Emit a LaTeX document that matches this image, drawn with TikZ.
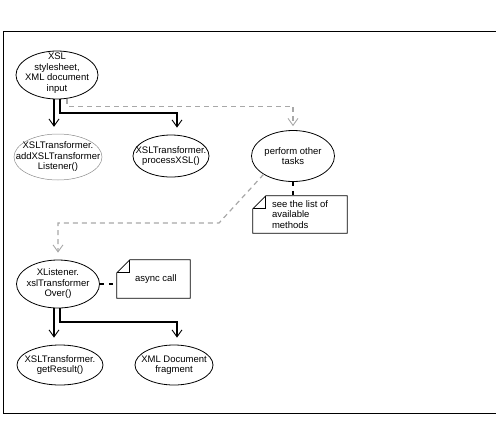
\documentclass[tikz,border=0pt]{standalone}
\usepackage{fontspec}
\setmainfont{Liberation Sans}
\usepackage{tikz}
\usetikzlibrary{shapes.geometric, arrows.meta, positioning, calc}
\usepackage{xcolor}
\definecolor{muted}{HTML}{A8A8A8}
\definecolor{rim}{HTML}{8C8C8C}
\newcommand{\dgmfont}{\fontsize{9.5}{10.5}\selectfont}
\tikzset{
  act/.style={ellipse, draw, line width=0.8pt, inner sep=0pt},
  actL/.style={act, draw=rim, line width=0.5pt},
  lbl/.style={align=center, font=\dgmfont, inner sep=0pt},
  flow/.style={line width=2pt, shorten >=7pt,
               -{Straight Barb[length=7pt, width=10pt, line width'=0.9pt]}},
  callarrow/.style={line width=1.2pt, draw=muted, dash pattern=on 5pt off 4pt,
               shorten >=4pt,
               -{Straight Barb[length=7pt, width=10pt, line width'=0.9pt]}},
  link/.style={line width=1.2pt, dash pattern=on 4pt off 5pt},
  notebox/.style={rectangle, inner sep=0pt},
  notetext/.style={align=left, font=\dgmfont, inner sep=0pt, anchor=west},
}
\begin{document}
\begin{tikzpicture}[x=1pt, y=-1pt]

  \useasboundingbox (0,0) rectangle (496,424);

  %% Outer frame (cut on the right)
  \draw[line width=1pt] (497,31) -- (3,31) -- (3,413) -- (497,413);

  %% --- activities ---
  \node[act, minimum width=82pt, minimum height=48pt,
        label={[lbl, yshift=2pt]center:{XSL\\stylesheet,\\XML document\\input}}]
        (xsl) at (57,75) {};
  \node[actL, minimum width=88pt, minimum height=46pt,
        label={[lbl]center:{XSLTransformer.\\addXSLTransformer\\Listener()}}]
        (lsn) at (58,157) {};
  \node[act, minimum width=76pt, minimum height=42pt,
        label={[lbl]center:{XSLTransformer.\\processXSL()}}]
        (proc) at (171,156) {};
  \node[act, minimum width=83pt, minimum height=51pt,
        label={[lbl]center:{perform other\\tasks}}]
        (other) at (293,156) {};
  \node[act, minimum width=83pt, minimum height=48pt,
        label={[lbl]center:{XListener.\\xslTransformer\\Over()}}]
        (xlis) at (58,284) {};
  \node[act, minimum width=86pt, minimum height=40pt,
        label={[lbl]center:{XSLTransformer.\\getResult()}}]
        (res) at (60,365) {};
  \node[act, minimum width=78pt, minimum height=40pt,
        label={[lbl]center:{XML Document\\fragment}}]
        (frag) at (174,365) {};

  %% --- notes ---
  \node[notebox, minimum width=94pt, minimum height=37pt] (mnote) at (300,214.5) {};
  \node[notetext] (mtext) at ([xshift=19pt]mnote.west) {see the list of\\available\\methods};
  \node[notebox, minimum width=73pt, minimum height=38pt] (anote) at (153.5,279) {};
  \node[notetext] (atext) at ([xshift=18pt]anote.west) {async call};

  \foreach \n in {mnote,anote}{
    \draw[line width=0.8pt] ([xshift=13pt]\n.north west) -- (\n.north east)
      -- (\n.south east) -- (\n.south west) -- ([yshift=-13pt]\n.north west) -- cycle;
    \draw[line width=0.8pt] ([xshift=13pt]\n.north west)
      -- ([xshift=13pt, yshift=-13pt]\n.north west) -- ([yshift=-13pt]\n.north west);
  }

  %% --- flows ---
  \draw[flow] ([xshift=-3pt]xsl.south) -- ([xshift=-3pt]xsl.south |- lsn.north);
  \draw[flow] ([xshift=3pt]xsl.south) -- ++(0,14) -| ([xshift=6pt]proc.north);
  \draw[callarrow] ([xshift=10pt]xsl.south) -- ++(0,7) -| (other.north);

  \coordinate (turn) at (219,223);
  \draw[callarrow, shorten >=7pt] (other.212) -- (turn) -| (xlis.north);

  \draw[link] (other.south) -- (other.south |- mnote.north);
  \draw[link] (xlis.east) -- (xlis.east -| anote.west);

  \draw[flow] ([xshift=-4pt]xlis.south) -- ([xshift=-4pt]xlis.south |- res.north);
  \draw[flow] ([xshift=2pt]xlis.south) -- ++(0,14) -| ([xshift=3pt]frag.north);

\end{tikzpicture}
\end{document}
